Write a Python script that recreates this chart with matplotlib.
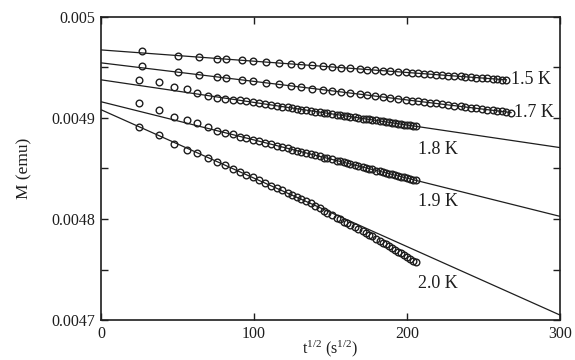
import numpy as np
import matplotlib
matplotlib.use("Agg")
import matplotlib.pyplot as plt
from matplotlib.ticker import FixedLocator, FixedFormatter, MultipleLocator

plt.rcParams["font.family"] = ["Liberation Serif", "DejaVu Serif"]
plt.rcParams["mathtext.fontset"] = "custom"
plt.rcParams["mathtext.rm"] = "Liberation Serif"
plt.rcParams["mathtext.it"] = "Liberation Serif:italic"

# sqrt(t) sample points (s^1/2)
sqrt_t_long = [27, 50, 64, 76, 82, 92, 99, 108, 116, 124, 131, 138, 145, 151, 157,
               163, 169, 174, 179, 184, 189, 194, 199, 203, 207, 211, 215, 219, 223,
               227, 231, 235, 238, 242, 245, 249, 252, 256, 259, 262, 265, 268]
sqrt_t_short = [25, 38, 48, 56, 63, 70, 76, 81, 86, 91, 95, 99, 103, 107, 111, 115,
                118, 122, 125, 128, 131, 134, 137, 140, 143, 146, 148, 151, 154, 156,
                159, 161, 163, 166, 168, 171, 173, 175, 177, 180, 182, 184, 186, 188,
                190, 192, 194, 196, 198, 200, 202, 204, 206]

# Magnetization (emu)
m_15K = [0.0049664, 0.0049618, 0.0049603, 0.0049589, 0.0049582, 0.0049571, 0.0049563,
         0.0049554, 0.0049544, 0.0049536, 0.0049527, 0.004952, 0.0049512, 0.0049505,
         0.0049499, 0.0049492, 0.0049485, 0.004948, 0.0049474, 0.0049468, 0.0049463,
         0.0049457, 0.0049452, 0.0049447, 0.0049443, 0.0049438, 0.0049434, 0.0049429,
         0.0049425, 0.004942, 0.0049416, 0.0049411, 0.0049408, 0.0049404, 0.00494,
         0.0049396, 0.0049392, 0.0049388, 0.0049385, 0.0049381, 0.0049378]
m_17K = [0.0049516, 0.0049454, 0.0049428, 0.0049407, 0.0049395, 0.0049377, 0.0049364,
         0.0049348, 0.0049333, 0.0049318, 0.0049306, 0.0049292, 0.004928, 0.0049269,
         0.0049257, 0.0049247, 0.0049235, 0.0049227, 0.0049217, 0.0049208, 0.0049199,
         0.004919, 0.004918, 0.0049173, 0.0049166, 0.0049158, 0.0049151, 0.0049144,
         0.0049137, 0.0049129, 0.0049122, 0.0049114, 0.0049109, 0.0049102, 0.0049096,
         0.0049089, 0.0049083, 0.0049076, 0.0049071, 0.0049065, 0.004906, 0.0049054]
m_18K = [0.0049372, 0.0049353, 0.0049311, 0.0049283, 0.0049247, 0.0049221, 0.0049198,
         0.0049187, 0.0049176, 0.0049175, 0.0049165, 0.0049157, 0.0049147, 0.0049139,
         0.0049129, 0.0049121, 0.0049113, 0.0049106, 0.0049098, 0.0049092, 0.0049084,
         0.0049079, 0.0049072, 0.0049064, 0.0049059, 0.0049051, 0.0049047, 0.0049041,
         0.0049033, 0.0049029, 0.0049023, 0.0049017, 0.0049014, 0.0049006, 0.0049003,
         0.0048995, 0.0048991, 0.0048987, 0.0048982, 0.0048976, 0.004897, 0.0048967,
         0.0048962, 0.0048957, 0.0048953, 0.0048949, 0.0048944, 0.004894, 0.0048935,
         0.0048931, 0.0048926, 0.0048922, 0.0048917]
m_19K = [0.0049146, 0.0049077, 0.0049009, 0.0048979, 0.0048953, 0.0048906, 0.0048874,
         0.0048854, 0.0048837, 0.0048816, 0.0048802, 0.0048787, 0.0048771, 0.0048757,
         0.0048741, 0.0048727, 0.0048714, 0.00487, 0.0048688, 0.0048677, 0.0048665,
         0.0048655, 0.0048642, 0.0048632, 0.004862, 0.0048608, 0.0048602, 0.004859,
         0.0048578, 0.0048571, 0.004856, 0.0048551, 0.0048545, 0.0048533, 0.0048525,
         0.0048514, 0.0048507, 0.0048499, 0.0048491, 0.004848, 0.0048473, 0.0048465,
         0.0048457, 0.004845, 0.0048442, 0.0048435, 0.0048427, 0.004842, 0.0048412,
         0.0048404, 0.0048397, 0.0048389, 0.0048382]
m_20K = [0.0048913, 0.0048835, 0.004874, 0.004868, 0.0048655, 0.0048608, 0.0048567,
         0.0048533, 0.0048499, 0.0048466, 0.0048438, 0.0048411, 0.0048384, 0.0048357,
         0.004833, 0.0048302, 0.0048283, 0.0048255, 0.0048235, 0.0048214, 0.0048194,
         0.0048174, 0.0048154, 0.0048133, 0.0048108, 0.0048083, 0.0048064, 0.0048039,
         0.0048013, 0.0047997, 0.0047972, 0.0047956, 0.004794, 0.0047917, 0.0047902,
         0.0047878, 0.0047862, 0.0047844, 0.0047827, 0.0047802, 0.0047785, 0.0047767,
         0.0047749, 0.0047731, 0.0047713, 0.0047695, 0.0047677, 0.0047659, 0.004764,
         0.0047623, 0.0047605, 0.0047587, 0.004757]

# Linear fits M = M0 + S * sqrt(t)
temps = ["1.5 K", "1.7 K", "1.8 K", "1.9 K", "2.0 K"]
fit_m0 = [0.0049674, 0.0049546, 0.0049378, 0.0049161, 0.0049082]
fit_slope = [-1.117e-7, -1.836e-7, -2.237e-7, -3.783e-7, -6.777e-7]
fit_xmax = [265, 268, 300, 300, 300]

# Temperature label anchors (sqrt(t), M)
label_x = [268, 270, 207, 207, 207]
label_y = [0.0049378, 0.0049052, 0.0048687, 0.0048174, 0.0047365]

x_ticks = [0, 100, 200, 300]
y_ticks = [0.0047, 0.0048, 0.0049, 0.005]
y_tick_labels = ["0.0047", "0.0048", "0.0049", "0.005"]

series = [(sqrt_t_long, m_15K), (sqrt_t_long, m_17K), (sqrt_t_short, m_18K),
          (sqrt_t_short, m_19K), (sqrt_t_short, m_20K)]

fig = plt.figure(figsize=(5.75, 3.6), dpi=100)
ax = fig.add_axes([0.1757, 0.1111, 0.7983, 0.8417])

ink = "#1e1e1e"
for (xs, ms), m0, s, xmax in zip(series, fit_m0, fit_slope, fit_xmax):
    xl = np.array([0, xmax])
    ax.plot(xl, m0 + s * xl, color=ink, lw=0.9, zorder=2)
    ax.plot(xs[:len(ms)], ms, linestyle="none", marker="o", ms=4.8,
            mfc="none", mec=ink, mew=1.0, zorder=3)

for t, lx, ly in zip(temps, label_x, label_y):
    ax.text(lx, ly, t, fontsize=13, color=ink, ha="left", va="center")

ax.set_xlim(0, 300)
ax.set_ylim(0.0047, 0.005)
ax.xaxis.set_major_locator(FixedLocator(x_ticks))
ax.yaxis.set_major_locator(FixedLocator(y_ticks))
ax.yaxis.set_major_formatter(FixedFormatter(y_tick_labels))
ax.yaxis.set_minor_locator(MultipleLocator(0.00005))
ax.tick_params(which="both", direction="in", top=True, right=True,
               color=ink, width=1.0, labelsize=11.5, labelcolor=ink)
ax.tick_params(which="major", length=5)
ax.tick_params(which="minor", length=5)
ax.tick_params(axis="x", pad=4)
ax.tick_params(axis="y", pad=4)
for sp in ax.spines.values():
    sp.set_linewidth(1.2)
    sp.set_color(ink)

ax.set_xlabel(r"t$^{\mathregular{1/2}}$ (s$^{\mathregular{1/2}}$)", fontsize=11.5,
              color=ink)
ax.xaxis.set_label_coords(0.5, -0.06)
ax.xaxis.label.set_va("top")
ax.set_ylabel("M (emu)", fontsize=12.5, color=ink)
ax.yaxis.set_label_coords(-0.15, 0.5)

fig.savefig("out.png", dpi=100, facecolor="white")
